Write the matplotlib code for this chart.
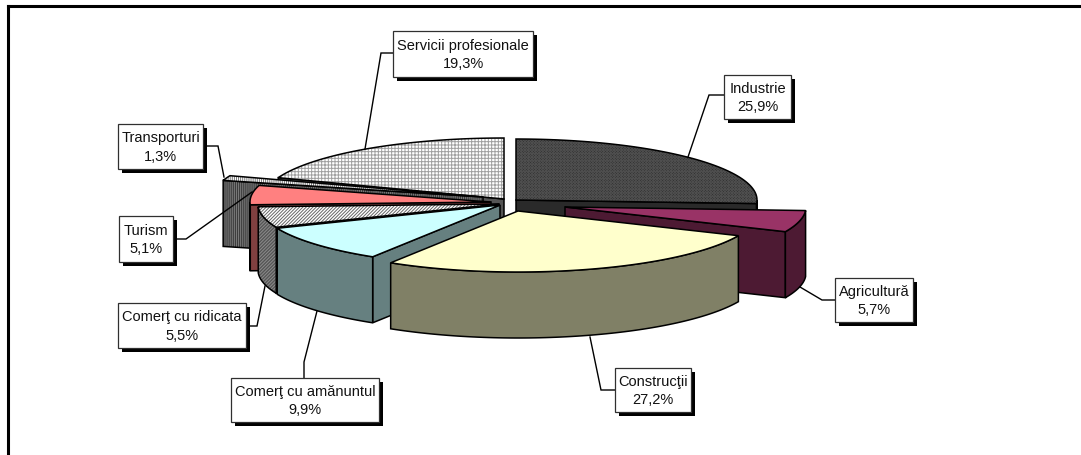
import numpy as np
import matplotlib
matplotlib.use("Agg")
import matplotlib.pyplot as plt
from matplotlib.patches import Polygon, Rectangle

plt.rcParams['font.family'] = ['Liberation Sans', 'DejaVu Sans']
plt.rcParams['hatch.linewidth'] = 0.7

# ---- data (clockwise from 12 o'clock) ----
categories = ["Industrie", "Agricultură", "Construcţii", "Comerţ cu amănuntul",
              "Comerţ cu ridicata", "Turism", "Transporturi", "Servicii profesionale"]
values = [25.9, 5.7, 27.2, 9.9, 5.5, 5.1, 1.3, 19.3]
value_labels = ["25,9%", "5,7%", "27,2%", "9,9%", "5,5%", "5,1%", "1,3%", "19,3%"]

# ---- styling / layout, in pixels of the 1081x456 canvas ----
RY, DEPTH = 61, 66
RX = [241, 241, 241, 241, 241, 241, 270, 241]
APEX = [(516, 201), (565, 208), (518, 212), (500, 206), (499, 205), (491, 203), (483, 198), (504, 200)]
TOP = ['#2e2e2e', '#993366', '#ffffcc', '#ccffff', '#ffffff', '#ff8080', '#ffffff', '#ffffff']
SIDE = ['#2a2a2a', '#4d1a33', '#808066', '#668080', '#555555', '#804040', '#3c3c3c', '#555555']
TOP_H = [('xxxxxxxxxxxx', '#4e4e4e'), None, None, None, ('//////////', '#666666'), None,
         ('||||||||', '#777777'), ('+++++', '#a0a0a0')]
SIDE_H = [None, None, None, None, ('//////////', '#8c8c8c'), None, ('||||||||', '#7c7c7c'), None]
ORDER = [7, 0, 6, 5, 4, 1, 3, 2]
BOX = [(724, 76, 791, 120), (835, 279, 913, 323), (615, 369, 691, 413), (231, 379, 379, 423),
       (118, 304, 246, 349), (119, 217, 173, 263), (118, 125, 203, 170), (393, 32, 533, 78)]
LEAD = [[(724, 96), (709, 96), (688, 158)], [(835, 301), (822, 301), (800, 288)],
        [(615, 391), (601, 391), (590, 338)], [(304, 379), (304, 363), (317, 312)],
        [(246, 327), (257, 327), (265, 287)], [(173, 240), (186, 240), (252, 193)],
        [(203, 147), (218, 147), (224, 178)], [(393, 54), (381, 54), (365, 150)]]

fig = plt.figure(figsize=(10.81, 4.56), dpi=100, facecolor='white')
ax = fig.add_axes([0, 0, 1, 1])
ax.set_xlim(0, 1081)
ax.set_ylim(456, 0)
ax.axis('off')


def rim(i, a, b, n=80):
    t = np.radians(np.linspace(a, b, n))
    cx, cy = APEX[i]
    return np.column_stack([cx + RX[i] * np.sin(t), cy - RY * np.cos(t)])


def paint(pts, color, hatch, z):
    if hatch:
        ax.add_patch(Polygon(pts, closed=True, facecolor=color, edgecolor='none', zorder=z))
        ax.add_patch(Polygon(pts, closed=True, fill=False, hatch=hatch[0],
                             edgecolor=hatch[1], lw=0, zorder=z))
        ax.add_patch(Polygon(pts, closed=True, fill=False, edgecolor='black', lw=1.1, zorder=z))
    else:
        ax.add_patch(Polygon(pts, closed=True, facecolor=color, edgecolor='black', lw=1.1, zorder=z))


angles = np.concatenate([[0], np.cumsum(values) / np.sum(values) * 360])
z = 2.0
down = np.array([0, DEPTH])
for i in ORDER:
    a, b = angles[i], angles[i + 1]
    apex = np.array(APEX[i], float)
    # radial cut faces that look towards the viewer
    for ang, normal in ((a, a - 90), (b, b + 90)):
        if np.cos(np.radians(normal)) < 0:
            p = rim(i, ang, ang, 2)[0]
            paint(np.array([apex, p, p + down, apex + down]), SIDE[i], SIDE_H[i], z)
            z += 0.01
    # curved outer wall, only its front half shows
    lo, hi = max(a, 90), min(b, 270)
    if hi > lo:
        arc = rim(i, lo, hi)
        paint(np.vstack([arc, (arc + down)[::-1]]), SIDE[i], SIDE_H[i], z)
        z += 0.01
    paint(np.vstack([[apex], rim(i, a, b)]), TOP[i], TOP_H[i], z)
    z += 0.01

# ---- leader lines and label boxes ----
for i, name in enumerate(categories):
    xs, ys = zip(*LEAD[i])
    ax.plot(xs, ys, color='black', lw=1.0, zorder=5, solid_joinstyle='miter')
    x0, y0, x1, y1 = BOX[i]
    ax.add_patch(Rectangle((x0 + 3.5, y0 + 3.5), x1 - x0, y1 - y0, facecolor='black', edgecolor='none', zorder=6))
    ax.add_patch(Rectangle((x0, y0), x1 - x0, y1 - y0, facecolor='white', edgecolor='#303030', lw=0.9, zorder=7))
    ax.text((x0 + x1) / 2, (y0 + y1) / 2, f"{name}\n{value_labels[i]}", ha='center', va='center',
            fontsize=10.5, color='#111111', linespacing=1.4, zorder=8)

# ---- frame: only the top and left rules exist in the source ----
ax.plot([7.5, 7.5], [456, 6.5], color='black', lw=2.2, zorder=9, solid_capstyle='projecting')
ax.plot([7.5, 1081], [6.5, 6.5], color='black', lw=2.2, zorder=9, solid_capstyle='projecting')

fig.savefig('out.png', dpi=100, facecolor='white')
